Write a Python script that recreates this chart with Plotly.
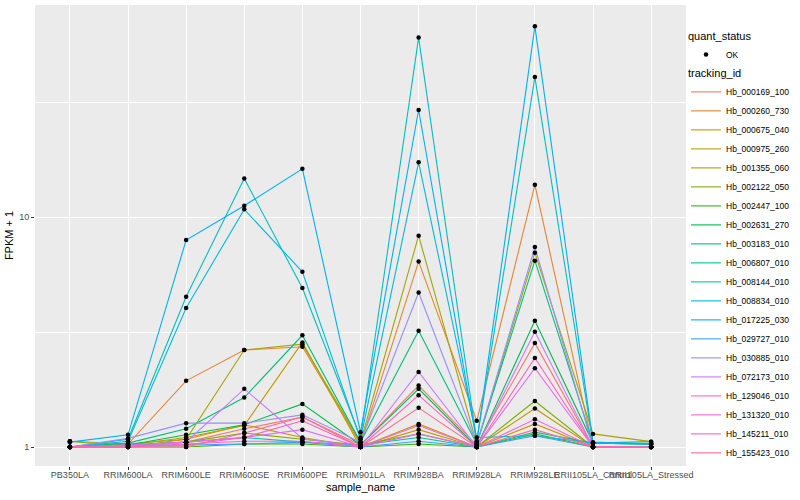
import plotly.graph_objects as go

samples = ["PB350LA", "RRIM600LA", "RRIM600LE", "RRIM600SE", "RRIM600PE", "RRIM901LA",
           "RRIM928BA", "RRIM928LA", "RRIM928LE", "RRII105LA_Control", "RRII105LA_Stressed"]

tracking_ids = ["Hb_000169_100", "Hb_000260_730", "Hb_000675_040", "Hb_000975_260", "Hb_001355_060",
                "Hb_002122_050", "Hb_002447_100", "Hb_002631_270", "Hb_003183_010", "Hb_006807_010",
                "Hb_008144_010", "Hb_008834_010", "Hb_017225_030", "Hb_029727_010", "Hb_030885_010",
                "Hb_072173_010", "Hb_129046_010", "Hb_131320_010", "Hb_145211_010", "Hb_155423_010"]

colors = ["#F8766D", "#EA8331", "#D89000", "#C09B00", "#A3A500", "#7CAE00", "#39B600", "#00BB4E",
          "#00BF7D", "#00C1A3", "#00BFC4", "#00BAE0", "#00B0F6", "#35A2FF", "#9590FF", "#C77CFF",
          "#E76BF3", "#FA62DB", "#FF62BC", "#FF6C91"]

# FPKM + 1 per tracking id, in sample order
hb_000169_100 = [1.00, 1.02, 1.05, 1.20, 1.35, 1.02, 1.85, 1.02, 2.83, 1.00, 1.00]
hb_000260_730 = [1.00, 1.03, 1.94, 2.64, 2.73, 1.03, 6.40, 1.30, 13.8, 1.00, 1.00]
hb_000675_040 = [1.00, 1.00, 1.08, 1.25, 1.10, 1.00, 1.26, 1.00, 1.26, 1.00, 1.00]
hb_000975_260 = [1.00, 1.02, 1.10, 1.24, 2.85, 1.00, 1.19, 1.00, 1.47, 1.00, 1.00]
hb_001355_060 = [1.06, 1.03, 1.08, 2.64, 2.80, 1.05, 8.30, 1.03, 7.00, 1.14, 1.055]
hb_002122_050 = [1.06, 1.00, 1.05, 1.15, 1.08, 1.02, 1.14, 1.00, 1.585, 1.00, 1.00]
hb_002447_100 = [1.00, 1.00, 1.00, 1.03, 1.03, 1.00, 1.03, 1.00, 1.14, 1.00, 1.00]
hb_002631_270 = [1.00, 1.02, 1.13, 1.25, 1.54, 1.02, 1.79, 1.00, 3.54, 1.04, 1.03]
hb_003183_010 = [1.00, 1.04, 1.20, 1.64, 3.06, 1.05, 3.20, 1.03, 6.46, 1.04, 1.03]
hb_006807_010 = [1.00, 1.02, 1.05, 1.10, 1.05, 1.02, 1.10, 1.00, 1.16, 1.04, 1.03]
hb_008144_010 = [1.00, 1.08, 4.50, 14.7, 4.91, 1.10, 60.3, 1.06, 40.6, 1.04, 1.055]
hb_008834_010 = [1.00, 1.06, 4.02, 10.8, 5.78, 1.08, 17.3, 1.10, 1.12, 1.04, 1.03]
hb_017225_030 = [1.05, 1.13, 7.94, 11.2, 16.2, 1.16, 29.2, 1.05, 67.5, 1.05, 1.03]
hb_029727_010 = [1.00, 1.02, 1.02, 1.03, 1.05, 1.00, 1.06, 1.00, 1.12, 1.00, 1.00]
hb_030885_010 = [1.00, 1.09, 1.27, 1.27, 1.38, 1.05, 4.70, 1.03, 7.40, 1.00, 1.00]
hb_072173_010 = [1.00, 1.00, 1.05, 1.79, 1.09, 1.00, 2.12, 1.00, 3.17, 1.00, 1.00]
hb_129046_010 = [1.00, 1.02, 1.05, 1.10, 1.19, 1.00, 1.14, 1.00, 2.20, 1.00, 1.00]
hb_131320_010 = [1.00, 1.00, 1.03, 1.06, 1.06, 1.00, 1.24, 1.00, 1.32, 1.00, 1.00]
hb_145211_010 = [1.00, 1.00, 1.02, 1.10, 1.30, 1.00, 1.68, 1.00, 2.44, 1.00, 1.00]
hb_155423_010 = [1.00, 1.00, 1.00, 1.15, 1.35, 1.00, 1.48, 1.00, 1.19, 1.00, 1.00]

series = [hb_000169_100, hb_000260_730, hb_000675_040, hb_000975_260, hb_001355_060,
          hb_002122_050, hb_002447_100, hb_002631_270, hb_003183_010, hb_006807_010,
          hb_008144_010, hb_008834_010, hb_017225_030, hb_029727_010, hb_030885_010,
          hb_072173_010, hb_129046_010, hb_131320_010, hb_145211_010, hb_155423_010]

FONT = "Liberation Sans"
fig = go.Figure()

for name, col, vals in zip(tracking_ids, colors, series):
    fig.add_trace(go.Scatter(x=samples, y=vals, mode="lines", name=name,
                             line=dict(color=col, width=1.1), legend="legend2"))

all_x = [s for vals in series for s in samples]
all_y = [v for vals in series for v in vals]
fig.add_trace(go.Scatter(x=all_x, y=all_y, mode="markers", name="OK",
                         marker=dict(color="black", size=4.5, symbol="circle"),
                         legend="legend"))

fig.update_layout(
    width=800, height=500,
    margin=dict(l=35, r=114, t=5, b=34),
    paper_bgcolor="white", plot_bgcolor="#EBEBEB",
    font=dict(family=FONT, size=9, color="#4D4D4D"),
    legend=dict(title=dict(text="quant_status", font=dict(size=11, color="black")),
                x=1.0, xanchor="left", y=0.955, yanchor="top",
                bgcolor="rgba(0,0,0,0)", font=dict(size=8.5, color="black"),
                itemwidth=30),
    legend2=dict(title=dict(text="tracking_id", font=dict(size=11, color="black")),
                 x=1.0, xanchor="left", y=0.874, yanchor="top",
                 bgcolor="rgba(0,0,0,0)", font=dict(size=8.5, color="black"),
                 itemwidth=30, tracegroupgap=0),
    showlegend=True,
)

fig.update_xaxes(
    type="category", categoryorder="array", categoryarray=samples,
    range=[-0.6, len(samples) - 0.4], tickangle=0,
    showgrid=True, gridcolor="white", gridwidth=1.1, zeroline=False,
    ticks="outside", ticklen=3, tickcolor="#333333", tickwidth=1,
    ticklabelstandoff=-3,
    tickfont=dict(size=9, color="#4D4D4D"),
    title=dict(text="sample_name", font=dict(size=11, color="black"), standoff=4),
)
fig.update_yaxes(
    type="log", range=[-0.0826, 1.922],
    tickvals=[1, 10], ticktext=["1", "10"],
    showgrid=True, gridcolor="white", gridwidth=1.1, zeroline=False,
    minor=dict(tickvals=[10 ** 0.5, 10 ** 1.5], showgrid=True, gridcolor="white",
               gridwidth=0.5, ticks=""),
    ticks="outside", ticklen=3, tickcolor="#333333", tickwidth=1,
    tickfont=dict(size=9, color="#4D4D4D"),
    title=dict(text="FPKM + 1", font=dict(size=11, color="black"), standoff=3),
)

fig.write_html("out.html", config={"displayModeBar": False},
               post_script="document.body.style.margin='0';")
